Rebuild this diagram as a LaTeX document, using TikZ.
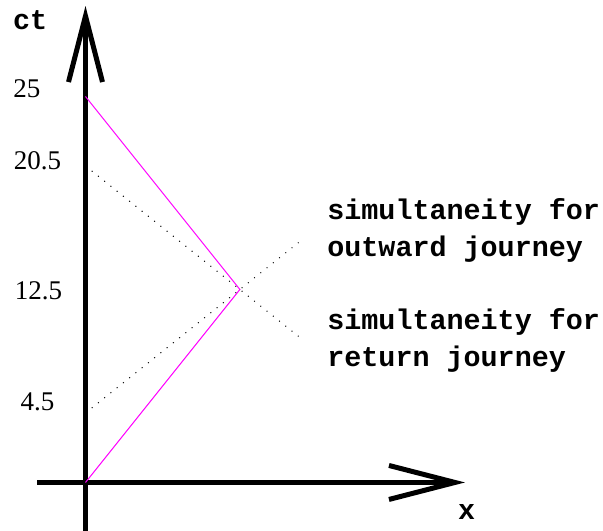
\documentclass[tikz,border=0pt]{standalone}
\usepackage{fontspec}
\setmainfont{Liberation Serif}
\setmonofont{Liberation Mono}
\usetikzlibrary{arrows.meta}
\definecolor{pathmagenta}{RGB}{255,0,255}

\begin{document}
\begin{tikzpicture}[
        x=7.72pt, y=7.72pt,
        axis/.style={
            line width=2.5pt,
            -{Straight Barb[length=33pt, width=17pt]}
        },
        worldline/.style={
            draw=pathmagenta,
            line width=0.5pt
        },
        simline/.style={
            line width=0.5pt,
            dash pattern=on 0.5pt off 3.5pt
        },
        tick/.style={
            font=\fontsize{13.5pt}{16pt}\selectfont,
            inner sep=0pt
        },
        label/.style={
            font=\ttfamily\bfseries\fontsize{14.2pt}{18.5pt}\selectfont,
            inner sep=0pt,
            align=left
        }
    ]
    \useasboundingbox (-5.538,-3.141) rectangle (33.52,31.25);

    \coordinate (origin)   at (0,0);
    \coordinate (turn)     at (10,12.5);
    \coordinate (home)     at (0,25);
    \coordinate (outstart) at (0,4.5);
    \coordinate (outend)   at (13.8,15.54);
    \coordinate (retstart) at (0,20.5);
    \coordinate (retend)   at (13.8,9.46);
    \coordinate (ybottom)  at (0,-3.141);
    \coordinate (ytop)     at (0,30.86);
    \coordinate (xleft)    at (-3.12,0);
    \coordinate (xright)   at (24.58,0);

    \draw [simline] (outstart) -- (outend);
    \draw [simline] (retstart) -- (retend);

    \draw [axis] (ybottom) -- (ytop);
    \draw [axis] (xleft) -- (xright);

    \draw [worldline] (origin) -- (turn) -- (home);

    \node (ctlabel) [label] at (-3.59,29.95) {ct};
    \node (xlabel)  [label] at (24.68,-1.91) {x};

    \node (t25)  [tick] at (-3.79,25.49) {25};
    \node (t205) [tick] at (-3.11,20.82) {20.5};
    \node (t125) [tick] at (-3.04,12.44) {12.5};
    \node (t45)  [tick] at (-3.11,5.25) {4.5};

    \node (outtext) [label, anchor=west] at (15.64,16.35) {simultaneity for\\outward journey};
    \node (rettext) [label, anchor=west] at (15.64,9.23) {simultaneity for\\return journey};

\end{tikzpicture}
\end{document}
